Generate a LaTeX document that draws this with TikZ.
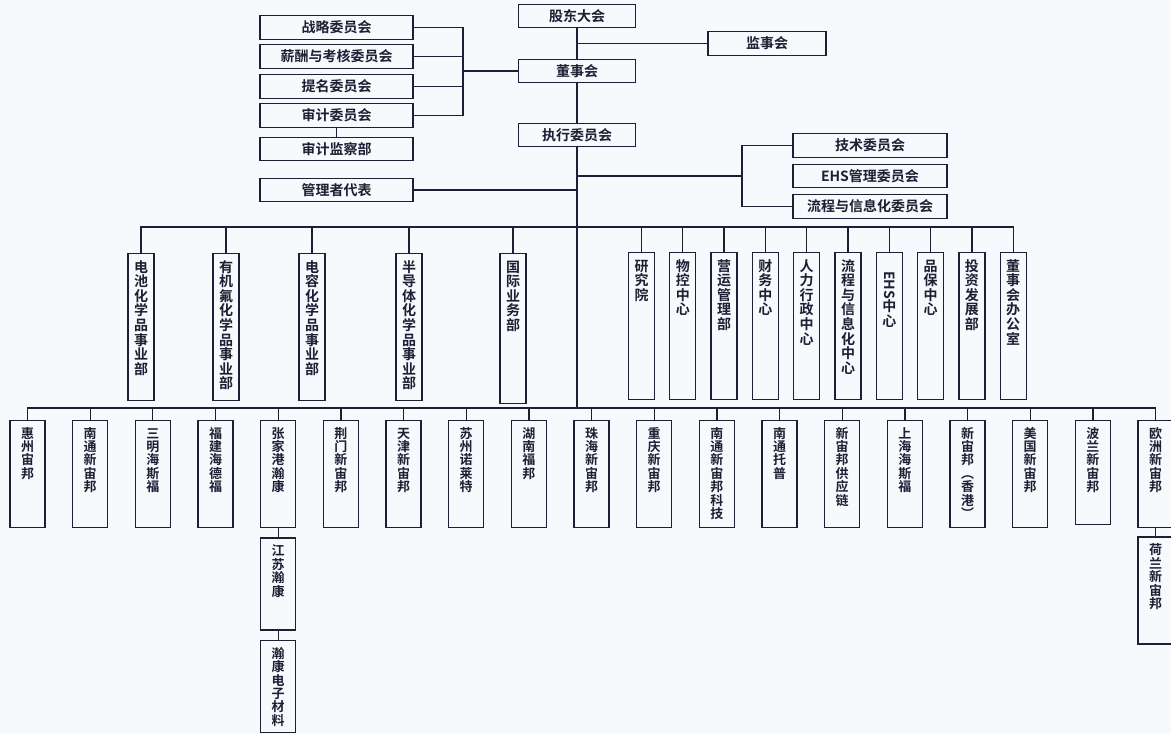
\documentclass[tikz,border=0pt]{standalone}
\usepackage{fontspec}
\setmainfont{Noto Sans CJK SC}[BoldFont={* Bold}]
\usetikzlibrary{positioning}
\definecolor{ink}{RGB}{28,32,52}
\definecolor{paper}{RGB}{248,249,252}

\begin{document}
\begin{tikzpicture}[
    x=1pt, y=-1pt,
    every node/.style={text=ink},
    conn/.style={draw=ink, line width=1.3pt},
    hbox/.style={draw=ink, line width=1.3pt, minimum height=23.5pt,
                 inner sep=0pt, font=\fontsize{14}{14}\selectfont\bfseries},
    headbox/.style={hbox, minimum width=117pt},
    sidebox/.style={hbox, minimum width=153pt},
    midbox/.style={draw=ink, line width=1.3pt, anchor=north, inner sep=0pt,
                   minimum width=26pt, text width=15pt, align=center,
                   text height=18.5pt, text depth=128.5pt,
                   font=\fontsize{14}{14.6}\selectfont\bfseries},
    lowbox/.style={draw=ink, line width=1.3pt, anchor=north, inner sep=0pt,
                   minimum width=35pt, text width=14pt, align=center,
                   text height=17.5pt, text depth=89.5pt,
                   font=\fontsize{13}{13.4}\selectfont\bfseries}
]
\useasboundingbox (0,0) rectangle (1171,734);
\fill[paper] (0,0) rectangle (1171,734);

% ── 股东大会 / 董事会 ──
\node[headbox] (gudong) at (577,16) {股东大会};
\node[headbox] (dongshi) at (577,71) {董事会};
\node[headbox] (zhixing) at (577,135) {执行委员会};
\node[hbox, minimum width=118pt] (jianshi) at (767,43.5) {监事会};

\draw[conn] (gudong) -- (dongshi) -- (zhixing);
\draw[conn] (jianshi.west) -- (gudong.south |- jianshi.west);

% ── 专门委员会 (left) ──
\node[sidebox] (zhanlue) at (336.5,27.5) {战略委员会};
\node[sidebox] (xinchou) at (336.5,56.5) {薪酬与考核委员会};
\node[sidebox] (timing) at (336.5,86.5) {提名委员会};
\node[sidebox] (shenji) at (336.5,115.5) {审计委员会};
\node[sidebox] (jiancha) at (336.5,149) {审计监察部};
\node[sidebox] (daibiao) at (336.5,190) {管理者代表};

\coordinate (lbus) at (463,71);
\draw[conn] (zhanlue.east) -| (lbus);
\draw[conn] (shenji.east) -| (lbus);
\draw[conn] (xinchou.east) -- (xinchou.east -| lbus);
\draw[conn] (timing.east) -- (timing.east -| lbus);
\draw[conn] (lbus) -- (dongshi.west);
\draw[conn] (shenji) -- (jiancha);

% ── 执行委员会 trunk ──
\coordinate (mbus) at (577,227);
\coordinate (bbus) at (577,408);
\draw[conn] (zhixing) -- (bbus);
\draw[conn] (daibiao.east) -- (daibiao.east -| zhixing.south);

% ── 委员会 (right) ──
\node[sidebox, minimum width=154pt] (jishu) at (870,145.5) {技术委员会};
\node[sidebox, minimum width=154pt, below=5.7pt of jishu] (ehs) {EHS管理委员会};
\node[sidebox, minimum width=154pt, below=5.7pt of ehs] (liucheng) {流程与信息化委员会};

\coordinate (rbus) at (742,176);
\draw[conn] (zhixing.south |- rbus) -- (rbus);
\draw[conn] (jishu.west) -| (rbus) |- (liucheng.west);

% ── 事业部 / 职能中心 ──
\node[midbox] (m1) at (141,253) {电\\池\\化\\学\\品\\事\\业\\部};
\node[midbox] (m2) at (226,253) {有\\机\\氟\\化\\学\\品\\事\\业\\部};
\node[midbox] (m3) at (312,253) {电\\容\\化\\学\\品\\事\\业\\部};
\node[midbox] (m4) at (409,253) {半\\导\\体\\化\\学\\品\\事\\业\\部};
\node[midbox, text depth=131.5pt] (m5) at (513,253) {国\\际\\业\\务\\部};

\node[midbox] (r1) at (641.5,252) {研\\究\\院};
\node[midbox] (r2) at (682.8,252) {物\\控\\中\\心};
\node[midbox] (r3) at (724.1,252) {营\\运\\管\\理\\部};
\node[midbox] (r4) at (765.4,252) {财\\务\\中\\心};
\node[midbox] (r5) at (806.7,252) {人\\力\\行\\政\\中\\心};
\node[midbox] (r6) at (848,252) {流\\程\\与\\信\\息\\化\\中\\心};
\node[midbox] (r7) at (889.3,252) {\rotatebox{-90}{EHS}\\中\\心};
\node[midbox] (r8) at (930.6,252) {品\\保\\中\\心};
\node[midbox] (r9) at (971.9,252) {投\\资\\发\\展\\部};
\node[midbox] (r10) at (1013.2,252) {董\\事\\会\\办\\公\\室};

\draw[conn] (mbus) -| (m1.north) (mbus) -| (m2.north) (mbus) -| (m3.north)
            (mbus) -| (m4.north) (mbus) -| (m5.north);
\draw[conn] (mbus) -| (r1.north) (mbus) -| (r2.north) (mbus) -| (r3.north)
            (mbus) -| (r4.north) (mbus) -| (r5.north) (mbus) -| (r6.north)
            (mbus) -| (r7.north) (mbus) -| (r8.north) (mbus) -| (r9.north)
            (mbus) -| (r10.north);

% ── 子公司 ──
\node[lowbox] (b1) at (27.5,420) {惠\\州\\宙\\邦};
\node[lowbox] (b2) at (90.2,420) {南\\通\\新\\宙\\邦};
\node[lowbox] (b3) at (152.8,420) {三\\明\\海\\斯\\福};
\node[lowbox] (b4) at (215.5,420) {福\\建\\海\\德\\福};
\node[lowbox] (b5) at (278.2,420) {张\\家\\港\\瀚\\康};
\node[lowbox] (b6) at (340.9,420) {荆\\门\\新\\宙\\邦};
\node[lowbox] (b7) at (403.5,420) {天\\津\\新\\宙\\邦};
\node[lowbox] (b8) at (466.2,420) {苏\\州\\诺\\莱\\特};
\node[lowbox] (b9) at (528.9,420) {湖\\南\\福\\邦};
\node[lowbox] (b10) at (591.5,420) {珠\\海\\新\\宙\\邦};
\node[lowbox] (b11) at (654.2,420) {重\\庆\\新\\宙\\邦};
\node[lowbox] (b12) at (716.9,420) {南\\通\\新\\宙\\邦\\科\\技};
\node[lowbox] (b13) at (779.5,420) {南\\通\\托\\普};
\node[lowbox] (b14) at (842.2,420) {新\\宙\\邦\\供\\应\\链};
\node[lowbox] (b15) at (904.9,420) {上\\海\\海\\斯\\福};
\node[lowbox] (b16) at (967.6,420) {新\\宙\\邦\\︵\\香\\港\\︶};
\node[lowbox] (b17) at (1030.2,420) {美\\国\\新\\宙\\邦};
\node[lowbox, text depth=86.5pt] (b18) at (1092.9,420) {波\\兰\\新\\宙\\邦};
\node[lowbox] (b19) at (1155.6,420) {欧\\洲\\新\\宙\\邦};

\draw[conn] (bbus) -| (b1.north) (bbus) -| (b2.north) (bbus) -| (b3.north)
            (bbus) -| (b4.north) (bbus) -| (b5.north) (bbus) -| (b6.north)
            (bbus) -| (b7.north) (bbus) -| (b8.north) (bbus) -| (b9.north)
            (bbus) -| (b10.north);
\draw[conn] (bbus) -| (b11.north) (bbus) -| (b12.north) (bbus) -| (b13.north)
            (bbus) -| (b14.north) (bbus) -| (b15.north) (bbus) -| (b16.north)
            (bbus) -| (b17.north) (bbus) -| (b18.north) (bbus) -| (b19.north);

% ── 孙公司 ──
\node[lowbox, text height=18pt, text depth=74pt, below=9pt of b5] (s1) {江\\苏\\瀚\\康};
\node[lowbox, text height=18pt, text depth=74pt, below=9pt of s1] (s2) {瀚\\康\\电\\子\\材\\料};
\node[lowbox, text height=18pt, text depth=89pt, below=8pt of b19] (s3) {荷\\兰\\新\\宙\\邦};

\draw[conn] (b5) -- (s1) -- (s2);
\draw[conn] (b19) -- (s3);

\end{tikzpicture}
\end{document}
